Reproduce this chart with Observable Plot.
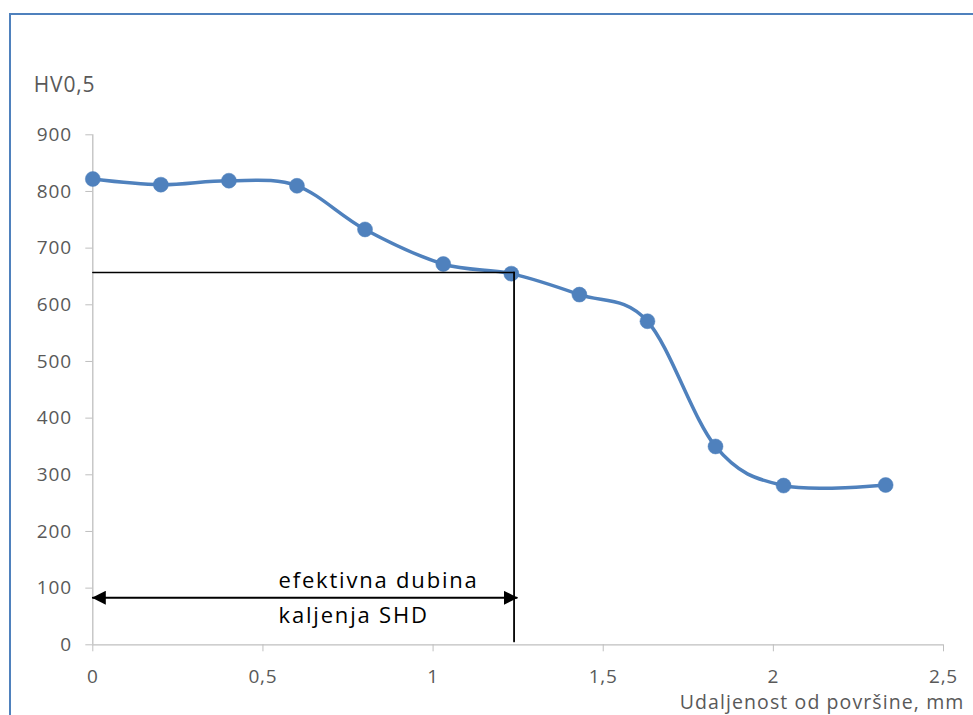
<!DOCTYPE html>
<html>
<head>
<meta charset="utf-8">
<script src="https://cdn.jsdelivr.net/npm/d3@7"></script>
<script src="https://cdn.jsdelivr.net/npm/@observablehq/plot@0.6"></script>
<style>
  html, body { margin: 0; padding: 0; background: #fff; overflow: hidden; width: 973px; height: 715px; }
  #frame { position: absolute; left: 9px; top: 13px; width: 1100px; height: 900px; border: 2px solid #4f81bd; box-sizing: border-box; }
  #chart { position: absolute; left: 0; top: 0; }
</style>
</head>
<body>
<div id="frame"></div>
<div id="chart"></div>
<script>
// ---- data ----
const depthMm = [0, 0.2, 0.4, 0.6, 0.8, 1.03, 1.23, 1.43, 1.63, 1.83, 2.03, 2.33];
const hardness = [822, 812, 819, 810, 733, 672, 655, 618, 571, 350, 281, 282];
const xTicks = [0, 0.5, 1, 1.5, 2, 2.5];
const xTickLabels = ["0", "0,5", "1", "1,5", "2", "2,5"];
const yTicks = [0, 100, 200, 300, 400, 500, 600, 700, 800, 900];
const shdDepth = 1.238;
const shdHardness = 657;
const shdBottom = 6;
const arrowHardness = 83;
const annotX = [0.546, 0.546];
const annotY = [101, 39];
const annotText = ["efektivna dubina", "kaljenja SHD"];
const yTitle = "HV0,5";
const xTitle = "Udaljenost od površine, mm";

const series = depthMm.map((d, i) => ({x: d, y: hardness[i]}));
const hLine = [{x: 0, y: shdHardness}, {x: shdDepth, y: shdHardness}];
const vLine = [{x: shdDepth, y: shdHardness}, {x: shdDepth, y: shdBottom}];
const arrow = [{x: 0, y: arrowHardness}, {x: shdDepth + 0.008, y: arrowHardness}];
const annots = annotText.map((t, i) => ({x: annotX[i], y: annotY[i], t}));

const axisGray = "#bfbfbf";
const labelGray = "#595959";
const blue = "#4f81bd";

const chart = Plot.plot({
  width: 973,
  height: 715,
  marginLeft: 92.3,
  marginRight: 30,
  marginTop: 134.3,
  marginBottom: 70.7,
  x: {domain: [0, 2.5]},
  y: {domain: [0, 900]},
  style: {fontFamily: "'Open Sans', sans-serif", fontSize: "19px", color: labelGray, background: "transparent", overflow: "visible", letterSpacing: "0.8px"},
  marks: [
    Plot.ruleX([0], {y1: 0, y2: 900, stroke: axisGray, strokeWidth: 1.3}),
    Plot.ruleY([0], {x1: 0, x2: 2.5, stroke: axisGray, strokeWidth: 1.3}),
    Plot.axisY({ticks: yTicks, tickSize: 7, tickPadding: 14, stroke: axisGray, fill: labelGray, label: null, fontSize: 19}),
    Plot.axisX({ticks: xTicks, tickFormat: d => xTickLabels[xTicks.indexOf(d)], tickSize: 7, tickPadding: 18, stroke: axisGray, fill: labelGray, label: null, fontSize: 19}),
    Plot.line(series, {x: "x", y: "y", curve: "cardinal", tension: 0, stroke: blue, strokeWidth: 3.5}),
    Plot.dot(series, {x: "x", y: "y", r: 7.5, fill: blue, stroke: blue, strokeWidth: 0.5}),
    Plot.line(hLine, {x: "x", y: "y", stroke: "#000", strokeWidth: 1.5}),
    Plot.line(vLine, {x: "x", y: "y", stroke: "#000", strokeWidth: 1.8}),
    Plot.line(arrow, {x: "x", y: "y", stroke: "#000", strokeWidth: 1.8, ariaDescription: "shd-arrow"}),
    Plot.text(annots, {x: "x", y: "y", text: "t", textAnchor: "start", lineAnchor: "bottom", fill: "#000", fontSize: 22, ariaDescription: "shd-text"}),
    Plot.text([yTitle], {frameAnchor: "top-left", dx: -59, dy: -43, textAnchor: "start", lineAnchor: "bottom", fill: labelGray, fontSize: 21}),
    Plot.text([xTitle], {frameAnchor: "bottom-right", dx: 21, dy: 64.5, textAnchor: "end", lineAnchor: "bottom", fill: labelGray, fontSize: 19.5, ariaDescription: "x-title"})
  ]
});
document.getElementById("chart").appendChild(chart);

const svg = d3.select(chart);
svg.selectAll("g[aria-description='shd-text'] text").style("letter-spacing", "1.8px");
svg.selectAll("g[aria-description='x-title'] text").style("letter-spacing", "1.1px");

// filled triangle arrowheads on both ends of the SHD arrow
const defs = svg.append("defs");
defs.append("marker")
  .attr("id", "tri-head")
  .attr("viewBox", "0 0 14 14")
  .attr("refX", 13)
  .attr("refY", 7)
  .attr("markerWidth", 14)
  .attr("markerHeight", 14)
  .attr("markerUnits", "userSpaceOnUse")
  .attr("orient", "auto-start-reverse")
  .append("path")
  .attr("d", "M0,0L14,7L0,14Z")
  .attr("fill", "#000");
svg.selectAll("g[aria-description='shd-arrow'] path")
  .attr("marker-start", "url(#tri-head)")
  .attr("marker-end", "url(#tri-head)");
</script>
</body>
</html>
